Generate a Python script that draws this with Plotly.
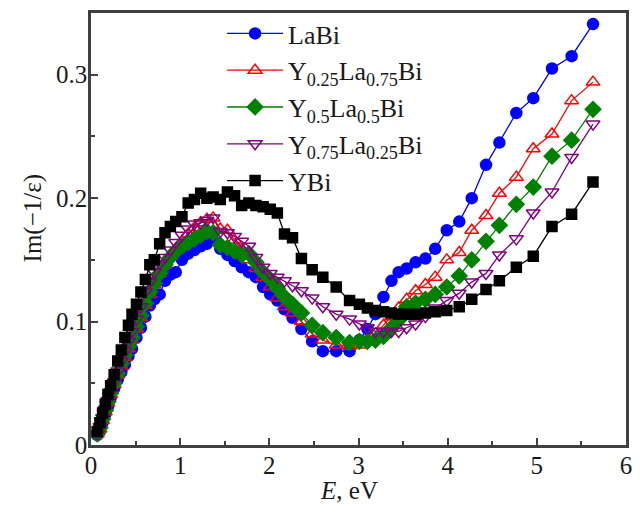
import plotly.graph_objects as go

energy = [0.07, 0.10, 0.13, 0.16, 0.19, 0.22, 0.26, 0.30, 0.34, 0.38, 0.42, 0.46, 0.51, 0.56, 0.61,
          0.66, 0.71, 0.77, 0.83, 0.89, 0.95, 1.02, 1.09, 1.16, 1.23, 1.30, 1.37, 1.45, 1.53, 1.61,
          1.69, 1.77, 1.85, 1.93, 2.01, 2.09, 2.17, 2.26, 2.36, 2.48, 2.60, 2.75, 2.90, 3.01, 3.10,
          3.19, 3.28, 3.37, 3.45, 3.54, 3.64, 3.75, 3.86, 3.99, 4.13, 4.27, 4.43, 4.58, 4.77, 4.96,
          5.17, 5.39, 5.63]

labi = [0.008, 0.012, 0.018, 0.025, 0.031, 0.038, 0.046, 0.053, 0.059, 0.065, 0.072, 0.078, 0.087, 0.095, 0.104,
        0.113, 0.118, 0.122, 0.133, 0.138, 0.140, 0.150, 0.155, 0.158, 0.161, 0.163, 0.166, 0.159, 0.154, 0.149,
        0.144, 0.140, 0.136, 0.128, 0.122, 0.117, 0.110, 0.103, 0.094, 0.084, 0.076, 0.076, 0.076, 0.085, 0.094,
        0.106, 0.120, 0.133, 0.140, 0.143, 0.148, 0.151, 0.159, 0.174, 0.181, 0.200, 0.227, 0.245, 0.269, 0.281,
        0.305, 0.315, 0.341]

y025 = [0.009, 0.013, 0.020, 0.027, 0.034, 0.041, 0.049, 0.057, 0.064, 0.071, 0.078, 0.085, 0.094, 0.103, 0.113,
        0.122, 0.130, 0.139, 0.146, 0.153, 0.159, 0.165, 0.171, 0.176, 0.180, 0.183, 0.184, 0.175, 0.174, 0.166,
        0.158, 0.150, 0.143, 0.136, 0.128, 0.119, 0.112, 0.107, 0.100, 0.090, 0.085, 0.081, 0.080, 0.081, 0.084,
        0.090, 0.097, 0.104, 0.111, 0.118, 0.125, 0.130, 0.136, 0.150, 0.156, 0.174, 0.186, 0.204, 0.217, 0.240,
        0.252, 0.279, 0.294]

y050 = [0.009, 0.014, 0.021, 0.028, 0.035, 0.042, 0.050, 0.058, 0.066, 0.073, 0.080, 0.087, 0.096, 0.105, 0.115,
        0.124, 0.131, 0.139, 0.146, 0.152, 0.157, 0.161, 0.164, 0.167, 0.170, 0.173, 0.172, 0.162, 0.160, 0.157,
        0.154, 0.155, 0.148, 0.140, 0.134, 0.127, 0.120, 0.114, 0.107, 0.097, 0.091, 0.087, 0.083, 0.084, 0.084,
        0.085, 0.088, 0.095, 0.101, 0.112, 0.115, 0.118, 0.122, 0.128, 0.137, 0.150, 0.165, 0.178, 0.195, 0.209,
        0.234, 0.247, 0.272]

y075 = [0.009, 0.015, 0.022, 0.029, 0.036, 0.043, 0.051, 0.060, 0.068, 0.076, 0.084, 0.092, 0.102, 0.112, 0.124,
        0.132, 0.140, 0.147, 0.152, 0.158, 0.164, 0.170, 0.175, 0.179, 0.180, 0.182, 0.184, 0.173, 0.172, 0.169,
        0.165, 0.161, 0.152, 0.144, 0.139, 0.136, 0.133, 0.129, 0.125, 0.119, 0.112, 0.106, 0.102, 0.098, 0.095,
        0.092, 0.092, 0.092, 0.092, 0.095, 0.098, 0.104, 0.111, 0.117, 0.123, 0.132, 0.139, 0.154, 0.167, 0.188,
        0.205, 0.233, 0.260]

ybi = [0.011, 0.018, 0.026, 0.033, 0.041, 0.048, 0.057, 0.068, 0.077, 0.087, 0.097, 0.106, 0.114, 0.124, 0.134,
       0.146, 0.150, 0.163, 0.172, 0.177, 0.181, 0.185, 0.196, 0.199, 0.204, 0.200, 0.201, 0.199, 0.205, 0.202,
       0.194, 0.196, 0.194, 0.193, 0.191, 0.188, 0.171, 0.168, 0.151, 0.142, 0.136, 0.128, 0.117, 0.114, 0.111,
       0.109, 0.108, 0.107, 0.106, 0.106, 0.106, 0.107, 0.108, 0.109, 0.112, 0.118, 0.126, 0.133, 0.144, 0.153,
       0.177, 0.187, 0.213]

names = ["LaBi", "Y<sub>0.25</sub>La<sub>0.75</sub>Bi", "Y<sub>0.5</sub>La<sub>0.5</sub>Bi",
         "Y<sub>0.75</sub>La<sub>0.25</sub>Bi", "YBi"]
series = [labi, y025, y050, y075, ybi]
colors = ["#0000ff", "#ff0000", "#008000", "#800080", "#000000"]
symbols = ["circle", "triangle-up-open", "diamond", "triangle-down-open", "square"]
sizes = [11, 12, 12, 12, 10]

x_title = "<i>E</i>, eV"
y_title = "Im(−1/ε)"

fig = go.Figure()
for name, vals, c, s, sz in zip(names, series, colors, symbols, sizes):
    fig.add_trace(go.Scatter(
        x=energy, y=vals, name=name, mode="lines+markers",
        line=dict(color=c, width=1.3),
        marker=dict(symbol=s, size=sz, color=c, line=dict(color=c, width=1.5)),
    ))

font = "Liberation Serif, Times New Roman, serif"
txt = "#1a1a1a"
axis_common = dict(
    showline=True, linecolor="#404040", linewidth=2.5, mirror=True,
    ticks="inside", ticklen=7, tickwidth=1.5, tickcolor="#404040",
    showgrid=False, zeroline=False, automargin=False,
    tickfont=dict(family=font, size=25, color=txt),
)
fig.update_xaxes(range=[0, 6], dtick=1, tick0=0, ticklabelstandoff=-4,
                 minor=dict(ticks="inside", ticklen=4, dtick=0.5, tickcolor="#404040", tickwidth=1.5),
                 **axis_common)
fig.update_yaxes(range=[0, 0.35], dtick=0.1, tick0=0, ticklabelstandoff=-4,
                 minor=dict(ticks="inside", ticklen=4, dtick=0.05, tickcolor="#404040", tickwidth=1.5),
                 **axis_common)

fig.add_annotation(text=x_title, xref="paper", yref="paper", x=0.482, y=-0.106,
                   xanchor="center", yanchor="middle", showarrow=False,
                   font=dict(family=font, size=25, color=txt))
fig.add_annotation(text=y_title, xref="paper", yref="paper", x=-0.108, y=0.525,
                   xanchor="center", yanchor="middle", showarrow=False, textangle=-90,
                   font=dict(family=font, size=25, color=txt))

fig.update_layout(
    width=642, height=512,
    margin=dict(l=91, r=16, t=13, b=67, autoexpand=False),
    plot_bgcolor="white", paper_bgcolor="white",
    font=dict(family=font, size=25, color=txt),
    legend=dict(x=0.245, y=1.007, xanchor="left", yanchor="top",
                bgcolor="rgba(0,0,0,0)", font=dict(family=font, size=26, color=txt),
                tracegroupgap=0, itemwidth=56),
    showlegend=True,
)

fig.write_html("out.html", config={"displayModeBar": False},
               post_script="document.body.style.margin='0';")
